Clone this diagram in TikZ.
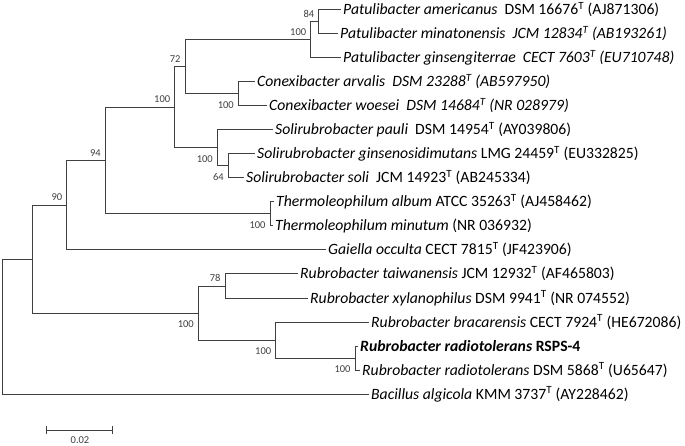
\documentclass[tikz,border=0pt]{standalone}
\usepackage{fontspec}
\setmainfont{Carlito}
\begin{document}
\begin{tikzpicture}[x=1pt,y=-1pt,
  br/.style={draw=black!75, line width=1pt, line cap=rect},
  leaf/.style={anchor=west, inner xsep=3pt, inner ysep=0pt, text height=11pt, text depth=1pt, font=\fontsize{15.7}{18}\selectfont},
  boot/.style={inner sep=0pt, font=\fontsize{10.5}{12}\selectfont, text=black!75},
  bootu/.style={boot, anchor=east, xshift=-4.3pt, yshift=8.1pt},
  bootd/.style={boot, anchor=east, xshift=-4.3pt, yshift=-11pt}]
\useasboundingbox[fill=white] (0,0) rectangle (685,446);
% internal nodes
\coordinate (R) at (2,326.6);
\coordinate (A) at (32.3,259.2);
\coordinate (B90) at (66.7,205.4);
\coordinate (N94) at (105.3,160.8);
\coordinate (N100) at (174.7,107.5);
\coordinate (N72) at (185,67);
\coordinate (Pat) at (310.7,40);
\coordinate (P84) at (318.7,22);
\coordinate (Con) at (238.3,94);
\coordinate (Sol) at (217.3,148);
\coordinate (SolIn) at (228.3,166);
\coordinate (The) at (270,214);
\coordinate (RubA) at (198.3,313);
\coordinate (R78) at (225,286);
\coordinate (RubB) at (275.7,340);
\coordinate (Rad) at (355,358);
% leaves
\node[leaf] (L0) at (340,10) {\textit{Patulibacter americanus}\ \ DSM 16676\textsuperscript{T} (AJ871306)};
\node[leaf] (L1) at (337,34) {\textit{Patulibacter minatonensis\ \ JCM 12834\textsuperscript{T} (AB193261)}};
\node[leaf] (L2) at (340,58) {\textit{Patulibacter ginsengiterrae\ \ CECT 7603\textsuperscript{T} (EU710748)}};
\node[leaf] (L3) at (254,82) {\textit{Conexibacter arvalis\ \ DSM 23288\textsuperscript{T} (AB597950)}};
\node[leaf] (L4) at (266,106) {\textit{Conexibacter woesei\ \ DSM 14684\textsuperscript{T} (NR 028979)}};
\node[leaf] (L5) at (272,130) {\textit{Solirubrobacter pauli}\ \ DSM 14954\textsuperscript{T} (AY039806)};
\node[leaf] (L6) at (254,154) {\textit{Solirubrobacter ginsenosidimutans} LMG 24459\textsuperscript{T} (EU332825)};
\node[leaf] (L7) at (243,178) {\textit{Solirubrobacter soli}\ \ JCM 14923\textsuperscript{T} (AB245334)};
\node[leaf] (L8) at (273,202) {\textit{Thermoleophilum album} ATCC 35263\textsuperscript{T} (AJ458462)};
\node[leaf] (L9) at (272,226) {\textit{Thermoleophilum minutum} (NR 036932)};
\node[leaf] (L10) at (325,250) {\textit{Gaiella occulta} CECT 7815\textsuperscript{T} (JF423906)};
\node[leaf] (L11) at (297,274) {\textit{Rubrobacter taiwanensis} JCM 12932\textsuperscript{T} (AF465803)};
\node[leaf] (L12) at (307,298) {\textit{Rubrobacter xylanophilus} DSM 9941\textsuperscript{T} (NR 074552)};
\node[leaf] (L13) at (368,322) {\textit{Rubrobacter bracarensis} CECT 7924\textsuperscript{T} (HE672086)};
\node[leaf] (L14) at (357,346) {\textbf{\textit{Rubrobacter radiotolerans} RSPS-4}};
\node[leaf] (L15) at (359,370) {\textit{Rubrobacter radiotolerans} DSM 5868\textsuperscript{T} (U65647)};
\node[leaf] (L16) at (368,394) {\textit{Bacillus algicola} KMM 3737\textsuperscript{T} (AY228462)};
% branches
\draw[br] (R) |- (A);      \draw[br] (R) |- (L16.west);
\draw[br] (A) |- (B90);    \draw[br] (A) |- (RubA);
\draw[br] (B90) |- (N94);  \draw[br] (B90) |- (L10.west);
\draw[br] (N94) |- (N100); \draw[br] (N94) |- (The);
\draw[br] (N100) |- (N72); \draw[br] (N100) |- (Sol);
\draw[br] (N72) |- (Pat);  \draw[br] (N72) |- (Con);
\draw[br] (Pat) |- (P84);  \draw[br] (Pat) |- (L2.west);
\draw[br] (P84) |- (L0.west); \draw[br] (P84) |- (L1.west);
\draw[br] (Con) |- (L3.west); \draw[br] (Con) |- (L4.west);
\draw[br] (Sol) |- (L5.west); \draw[br] (Sol) |- (SolIn);
\draw[br] (SolIn) |- (L6.west); \draw[br] (SolIn) |- (L7.west);
\draw[br] (The) |- (L8.west); \draw[br] (The) |- (L9.west);
\draw[br] (RubA) |- (R78); \draw[br] (RubA) |- (RubB);
\draw[br] (R78) |- (L11.west); \draw[br] (R78) |- (L12.west);
\draw[br] (RubB) |- (L13.west); \draw[br] (RubB) |- (Rad);
\draw[br] (Rad) |- (L14.west); \draw[br] (Rad) |- (L15.west);
% bootstrap values
\node[bootu] (b84) at (P84) {84};
\node[bootu] (bPat) at (Pat) {100};
\node[bootu] (b72) at (N72) {72};
\node[bootu] (bN100) at (N100) {100};
\node[bootu] (b94) at (N94) {94};
\node[bootu] (b90) at (B90) {90};
\node[bootu] (b78) at (R78) {78};
\node[bootd] (bCon) at (Con) {100};
\node[bootd] (bSol) at (Sol) {100};
\node[bootd] (b64) at (SolIn) {64};
\node[bootd] (bThe) at (The) {100};
\node[bootd] (bRubA) at (RubA) {100};
\node[bootd] (bRubB) at (RubB) {100};
\node[bootd] (bRad) at (Rad) {100};
% scale bar
\coordinate (s1) at (46.7,430);
\coordinate (s2) at (112.7,430);
\draw[br] (s1) -- (s2);
\draw[br] ([yshift=3.5pt]s1) -- ([yshift=-3.5pt]s1);
\draw[br] ([yshift=3.5pt]s2) -- ([yshift=-3.5pt]s2);
\node[boot] (sl) at (80,440) {0.02};
\end{tikzpicture}
\end{document}
